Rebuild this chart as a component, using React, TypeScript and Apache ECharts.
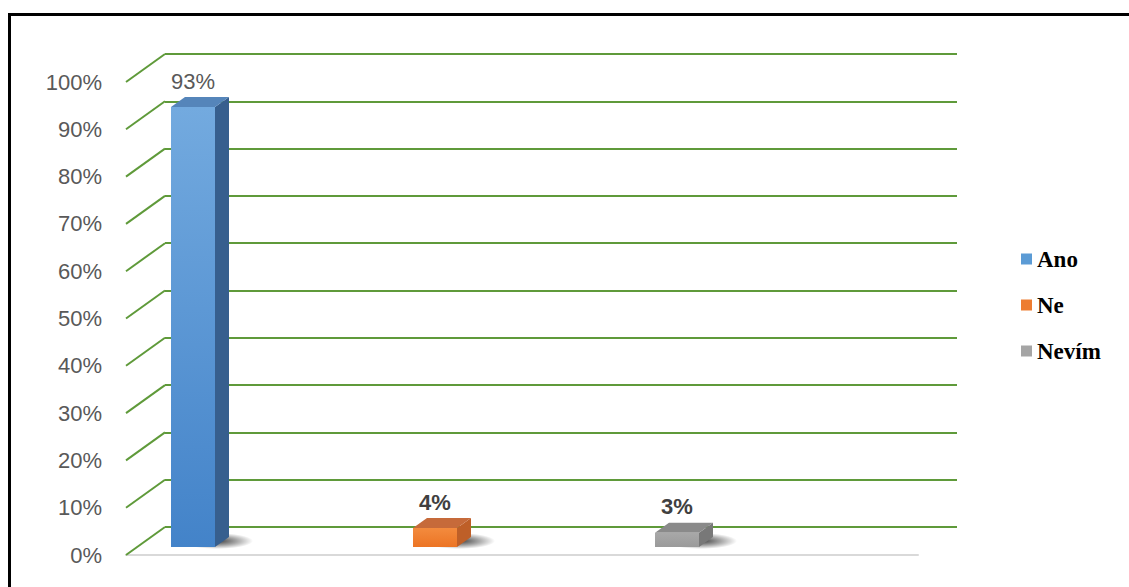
import React, { useEffect, useRef } from 'react';
import * as echarts from 'echarts';

const categories = ['Ano', 'Ne', 'Nevím'];
const values = [93, 4, 3];
const tickValues = [0, 10, 20, 30, 40, 50, 60, 70, 80, 90, 100];

const GREEN = '#5F9A3A';
const faces = [
  { legend: '#5B9BD5', front: ['#73AADF', '#4383C9'], side: '#375F8E', top: '#5585BA', label: '#595959', weight: 'normal' },
  { legend: '#ED7D31', front: ['#F38B3E', '#EC7424'], side: '#BE5F28', top: '#C66A3A', label: '#404040', weight: 'bold' },
  { legend: '#A5A5A5', front: ['#A8A8A8', '#9A9A9A'], side: '#787878', top: '#8A8A8A', label: '#404040', weight: 'bold' },
];

const BAR_W = 44;
const DX = 14;
const DY = -10;

function barRender(idx: number) {
  return (params: any, api: any) => {
    const cat = api.value(0);
    const val = api.value(1);
    const topP = api.coord([cat, val]);
    const baseP = api.coord([cat, 0]);
    const cx = topP[0];
    const x0 = cx - BAR_W / 2;
    const x1 = cx + BAR_W / 2;
    const yt = topP[1];
    const yb = baseP[1];
    const f = faces[idx];
    return {
      type: 'group',
      children: [
        {
          type: 'ellipse',
          shape: { cx: x1 + 2, cy: yb - 6, rx: 36, ry: 8 },
          style: {
            fill: new echarts.graphic.RadialGradient(0.5, 0.5, 0.5, [
              { offset: 0, color: 'rgba(0,0,0,0.75)' },
              { offset: 0.55, color: 'rgba(0,0,0,0.35)' },
              { offset: 1, color: 'rgba(0,0,0,0)' },
            ]),
          },
        },
        {
          type: 'polygon',
          shape: { points: [[x1, yt], [x1 + DX, yt + DY], [x1 + DX, yb + DY], [x1, yb]] },
          style: { fill: f.side },
        },
        {
          type: 'polygon',
          shape: { points: [[x0, yt], [x0 + DX, yt + DY], [x1 + DX, yt + DY], [x1, yt]] },
          style: { fill: f.top },
        },
        {
          type: 'rect',
          shape: { x: x0, y: yt, width: BAR_W, height: yb - yt },
          style: {
            fill: new echarts.graphic.LinearGradient(0, 0, 0, 1, [
              { offset: 0, color: f.front[0] },
              { offset: 1, color: f.front[1] },
            ]),
          },
        },
        {
          type: 'text',
          x: cx,
          y: yt + DY - 16,
          style: {
            text: val + '%',
            fill: f.label,
            fontSize: 22,
            fontWeight: f.weight,
            fontFamily: 'Liberation Sans, Arial, sans-serif',
            align: 'center',
            verticalAlign: 'middle',
          },
        },
      ],
    };
  };
}

export default function App() {
  const ref = useRef<HTMLDivElement>(null);
  useEffect(() => {
    document.body.style.margin = '0';
    const chart = echarts.init(ref.current!, undefined, { renderer: 'svg' });
    const option: any = {
      animation: false,
      backgroundColor: '#ffffff',
      grid: [
        { left: 165, width: 792, top: 54, bottom: 60 },
        { left: 126, width: 792, top: 82, bottom: 32 },
        { left: 72, width: 726, top: 74, bottom: 40 },
      ],
      xAxis: [
        { gridIndex: 0, type: 'value', min: 0, max: 1, show: false },
        {
          gridIndex: 1, type: 'value', min: 0, max: 1,
          axisLine: { show: true, lineStyle: { color: '#D9D9D9', width: 2 } },
          axisTick: { show: false }, axisLabel: { show: false }, splitLine: { show: false },
        },
        { gridIndex: 2, type: 'category', data: categories, show: false },
      ],
      yAxis: [
        {
          gridIndex: 0, type: 'value', min: 0, max: 100, interval: 10,
          axisLine: { show: false }, axisTick: { show: false }, axisLabel: { show: false },
          splitLine: { show: true, lineStyle: { color: GREEN, width: 2 } },
        },
        {
          gridIndex: 1, type: 'value', min: 0, max: 100, interval: 10,
          axisLine: { show: false }, axisTick: { show: false }, splitLine: { show: false },
          axisLabel: {
            formatter: '{value}%', color: '#595959', fontSize: 22, margin: 24,
            fontFamily: 'Liberation Sans, Arial, sans-serif',
          },
        },
        { gridIndex: 2, type: 'value', min: 0, max: 100, show: false },
      ],
      legend: {
        orient: 'vertical',
        left: 1021,
        top: 247,
        padding: 0,
        itemWidth: 11,
        itemHeight: 11,
        itemGap: 22,
        icon: 'rect',
        data: categories,
        textStyle: {
          fontFamily: 'Liberation Serif, Times New Roman, serif',
          fontWeight: 'bold',
          fontSize: 23,
          lineHeight: 24,
          color: '#000000',
        },
      },
      graphic: [
        {
          type: 'rect',
          shape: { x: 9.5, y: 14.5, width: 1300, height: 800 },
          style: { fill: 'none', stroke: '#000000', lineWidth: 3 },
          silent: true,
        },
      ],
      series: [
        {
          type: 'custom',
          xAxisIndex: 1,
          yAxisIndex: 1,
          silent: true,
          data: tickValues.map((v) => [0, v]),
          renderItem: (params: any, api: any) => {
            const p = api.coord([0, api.value(1)]);
            return {
              type: 'line',
              shape: { x1: p[0], y1: p[1], x2: p[0] + 39, y2: p[1] - 28 },
              style: { stroke: GREEN, lineWidth: 2 },
            };
          },
        },
        ...categories.map((name, i) => ({
          type: 'custom',
          name,
          xAxisIndex: 2,
          yAxisIndex: 2,
          itemStyle: { color: faces[i].legend },
          data: [[i, values[i]]],
          renderItem: barRender(i),
        })),
      ],
    };
    chart.setOption(option);
    return () => chart.dispose();
  }, []);
  return <div ref={ref} style={{ width: '1129px', height: '587px' }} />;
}
